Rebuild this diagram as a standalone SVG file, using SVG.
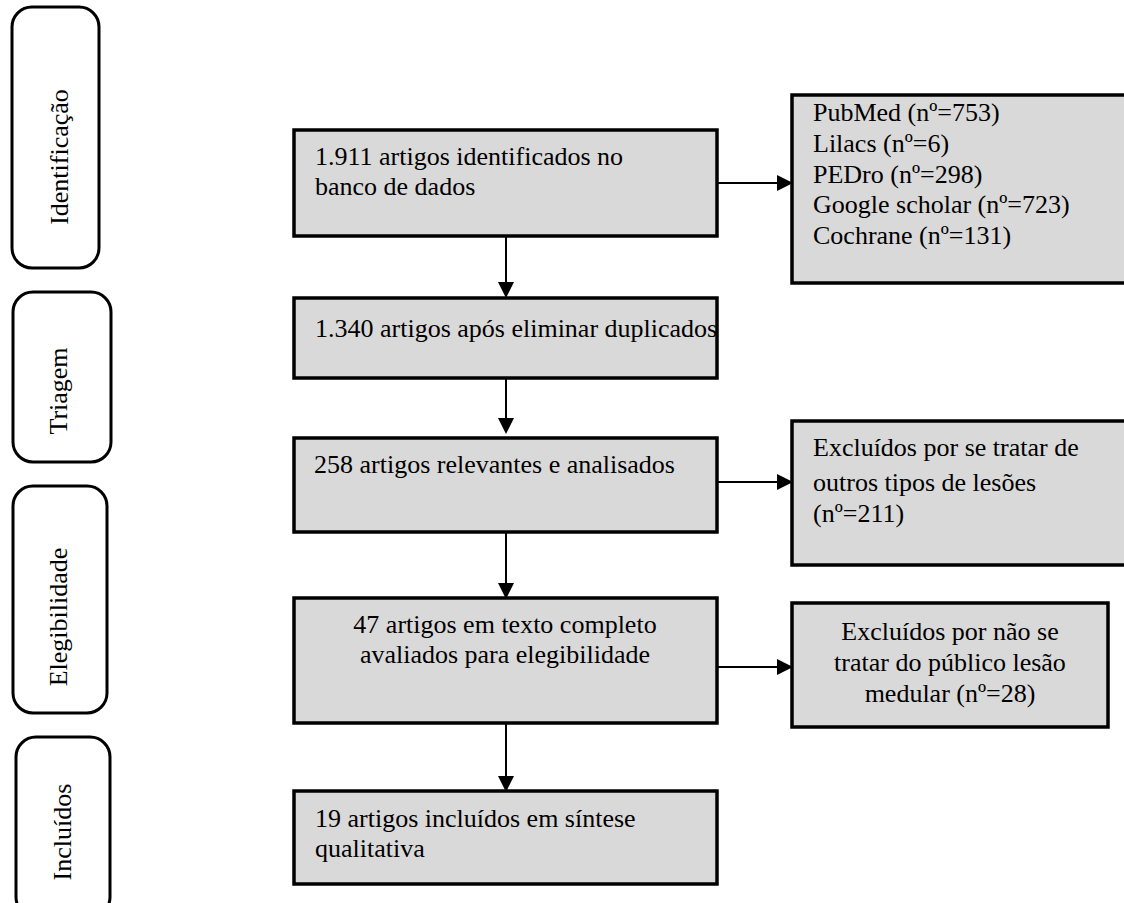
<svg xmlns="http://www.w3.org/2000/svg" width="1124" height="903" viewBox="0 0 1124 903">
<style>
.stage{fill:#ffffff;stroke:#000;stroke-width:3}
.box{fill:#d9d9d9;stroke:#000;stroke-width:3.5}
text{font-family:"Liberation Serif","Times New Roman",serif;font-size:26px;fill:#000}
.c{text-anchor:middle}
.conn{stroke:#000;stroke-width:2;fill:none;marker-end:url(#ah)}
</style>
<defs>
<marker id="ah" markerWidth="8" markerHeight="8" refX="7" refY="4" orient="auto" markerUnits="strokeWidth" viewBox="0 0 8 8">
<path d="M0,0 L8,4 L0,8 Z" fill="#000"/>
</marker>
</defs>
<rect width="1124" height="903" fill="#fff"/>
<g id="stage-identificacao"><rect class="stage" x="12" y="7" width="87" height="261" rx="20"/><text class="c" transform="translate(68,157) rotate(-90)">Identificação</text></g>
<g id="stage-triagem"><rect class="stage" x="13" y="292" width="98" height="170" rx="20"/><text class="c" transform="translate(67,391) rotate(-90)">Triagem</text></g>
<g id="stage-elegibilidade"><rect class="stage" x="13" y="486" width="94" height="227" rx="20"/><text class="c" transform="translate(67,617) rotate(-90)">Elegibilidade</text></g>
<g id="stage-incluidos"><rect class="stage" x="16" y="737" width="94" height="180" rx="20"/><text class="c" transform="translate(71,832) rotate(-90)">Incluídos</text></g>

<g id="n1"><rect class="box" x="294" y="130" width="423" height="106"/><text x="315" y="165">1.911 artigos identificados no</text><text x="315" y="195">banco de dados</text></g>
<g id="n-sources"><rect class="box" x="792" y="95" width="340" height="188"/>
<text x="813" y="121">PubMed (nº=753)</text><text x="813" y="152">Lilacs (nº=6)</text><text x="813" y="183">PEDro (nº=298)</text><text x="813" y="213">Google scholar (nº=723)</text><text x="813" y="244">Cochrane (nº=131)</text></g>
<g id="n2"><rect class="box" x="294" y="298" width="423" height="80"/><text x="315" y="337">1.340 artigos após eliminar duplicados</text></g>
<g id="n3"><rect class="box" x="294" y="438" width="423" height="94"/><text x="314" y="473">258 artigos relevantes e analisados</text></g>
<g id="n-excl1"><rect class="box" x="792" y="421" width="340" height="144"/><text x="813" y="456">Excluídos por se tratar de</text><text x="813" y="491">outros tipos de lesões</text><text x="813" y="522">(nº=211)</text></g>
<g id="n4"><rect class="box" x="294" y="598" width="423" height="125"/><text class="c" x="505" y="633">47 artigos em texto completo</text><text class="c" x="505" y="663">avaliados para elegibilidade</text></g>
<g id="n-excl2"><rect class="box" x="792" y="603" width="316" height="124"/><text class="c" x="950" y="640">Excluídos por não se</text><text class="c" x="950" y="671">tratar do público lesão</text><text class="c" x="950" y="702">medular (nº=28)</text></g>
<g id="n5"><rect class="box" x="294" y="791" width="423" height="93"/><text x="315" y="827">19 artigos incluídos em síntese</text><text x="315" y="857">qualitativa</text></g>

<g id="connectors">
<line class="conn" x1="506" y1="236" x2="506" y2="296"/>
<line class="conn" x1="506" y1="378" x2="506" y2="432"/>
<line class="conn" x1="506" y1="532" x2="506" y2="597"/>
<line class="conn" x1="506" y1="723" x2="506" y2="790"/>
<line class="conn" x1="717" y1="183" x2="791" y2="183"/>
<line class="conn" x1="717" y1="482" x2="791" y2="482"/>
<line class="conn" x1="717" y1="667" x2="791" y2="667"/>
</g>
</svg>
